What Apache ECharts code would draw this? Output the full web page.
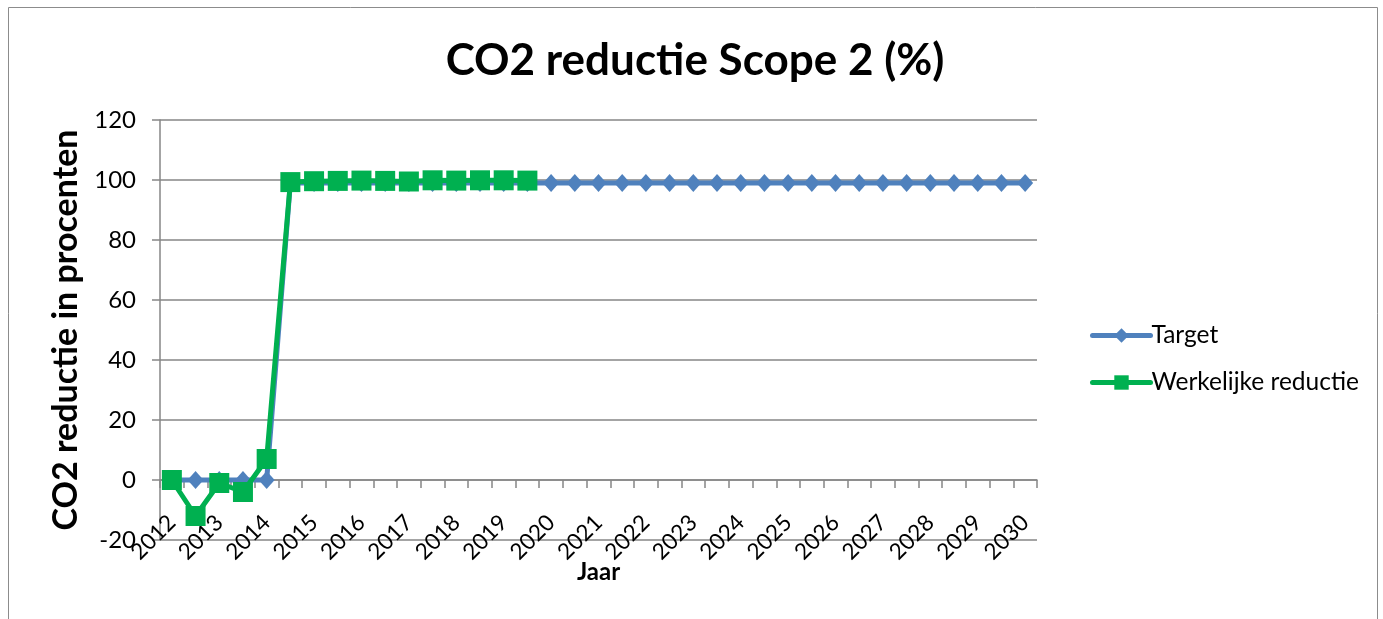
<!DOCTYPE html>
<html><head><meta charset="utf-8">
<script src="https://cdn.jsdelivr.net/npm/echarts@6/dist/echarts.min.js"></script>
<style>html,body{margin:0;padding:0;background:#fff}#c{width:1383px;height:619px}</style>
</head><body><div id="c"></div>
<script>
// Categories: half-year steps from 2012 to 2030; only whole years are labelled
const categories = ['2012','2012.5','2013','2013.5','2014','2014.5','2015','2015.5','2016','2016.5',
  '2017','2017.5','2018','2018.5','2019','2019.5','2020','2020.5','2021','2021.5','2022','2022.5',
  '2023','2023.5','2024','2024.5','2025','2025.5','2026','2026.5','2027','2027.5','2028','2028.5',
  '2029','2029.5','2030'];
const targetValues = [0,0,0,0,0,99,99,99,99,99,99,99,99,99,99,99,99,99,99,99,99,99,99,99,99,99,99,99,99,99,99,99,99,99,99,99,99];
const actualValues = [0,-12,-1,-4,7,99.3,99.6,99.7,99.8,99.7,99.5,99.9,99.8,99.9,99.9,99.8];
const yTicks = {min:-20, max:120, interval:20};

const font = 'Lato, "Open Sans", sans-serif';
const chart = echarts.init(document.getElementById('c'));
chart.setOption({
  animation:false,
  backgroundColor:'#fff',
  graphic:[{type:'rect', shape:{x:8.5,y:7.5,width:1369,height:640}, style:{fill:'none',stroke:'#8c8c8c',lineWidth:1}, z:-1}],
  title:{text:'CO2 reductie Scope 2 (%)', left:690, top:34, textAlign:'center',
    textStyle:{fontFamily:font, fontSize:44, fontWeight:'bold', color:'#000'}},
  legend:{orient:'vertical', left:1085, top:318, itemGap:22, itemWidth:58, itemHeight:18,
    textStyle:{fontFamily:font, fontSize:24.5, color:'#000', padding:[0,0,0,-4]},
    data:[
      {name:'Target', lineStyle:{width:5, cap:'round'}},
      {name:'Werkelijke reductie', lineStyle:{width:5, cap:'round'}}
    ]},
  grid:{left:160, right:346, top:120, bottom:79, outerBoundsMode:'none', containLabel:false},
  xAxis:{type:'category', data:categories, boundaryGap:true,
    name:'Jaar', nameLocation:'middle', nameGap:20, nameMoveOverlap:false,
    nameTextStyle:{fontFamily:font, fontSize:24, fontWeight:'bold', color:'#000'},
    axisLine:{onZero:true, lineStyle:{color:'#868686', width:1.5}},
    axisTick:{show:true, interval:0, length:8, lineStyle:{color:'#868686', width:1.5}},
    axisLabel:{interval:1, rotate:45, margin:-21, fontFamily:font, fontSize:22.5, color:'#000',
      formatter:v => v.indexOf('.')>=0 ? '' : v},
    splitLine:{show:false}},
  yAxis:{type:'value', min:yTicks.min, max:yTicks.max, interval:yTicks.interval,
    name:'CO2 reductie in procenten', nameLocation:'middle', nameGap:76, nameRotate:90,
    nameTextStyle:{fontFamily:font, fontSize:34, fontWeight:'bold', color:'#000'},
    axisLine:{show:true, lineStyle:{color:'#868686', width:1.5}},
    axisTick:{show:true, length:8, lineStyle:{color:'#868686', width:1.5}},
    axisLabel:{margin:24, fontFamily:font, fontSize:24, color:'#000'},
    splitLine:{show:true, lineStyle:{color:'#868686', width:1.5}}},
  series:[
    {name:'Target', type:'line', data:targetValues, symbol:'diamond', symbolSize:[16,18],
      showAllSymbol:true, lineStyle:{color:'#4F81BD', width:5}, itemStyle:{color:'#4F81BD'}, z:2},
    {name:'Werkelijke reductie', type:'line', data:actualValues, symbol:'rect', symbolSize:20,
      showAllSymbol:true, lineStyle:{color:'#00B050', width:5}, itemStyle:{color:'#00B050'}, z:3}
  ]
});
</script></body></html>
